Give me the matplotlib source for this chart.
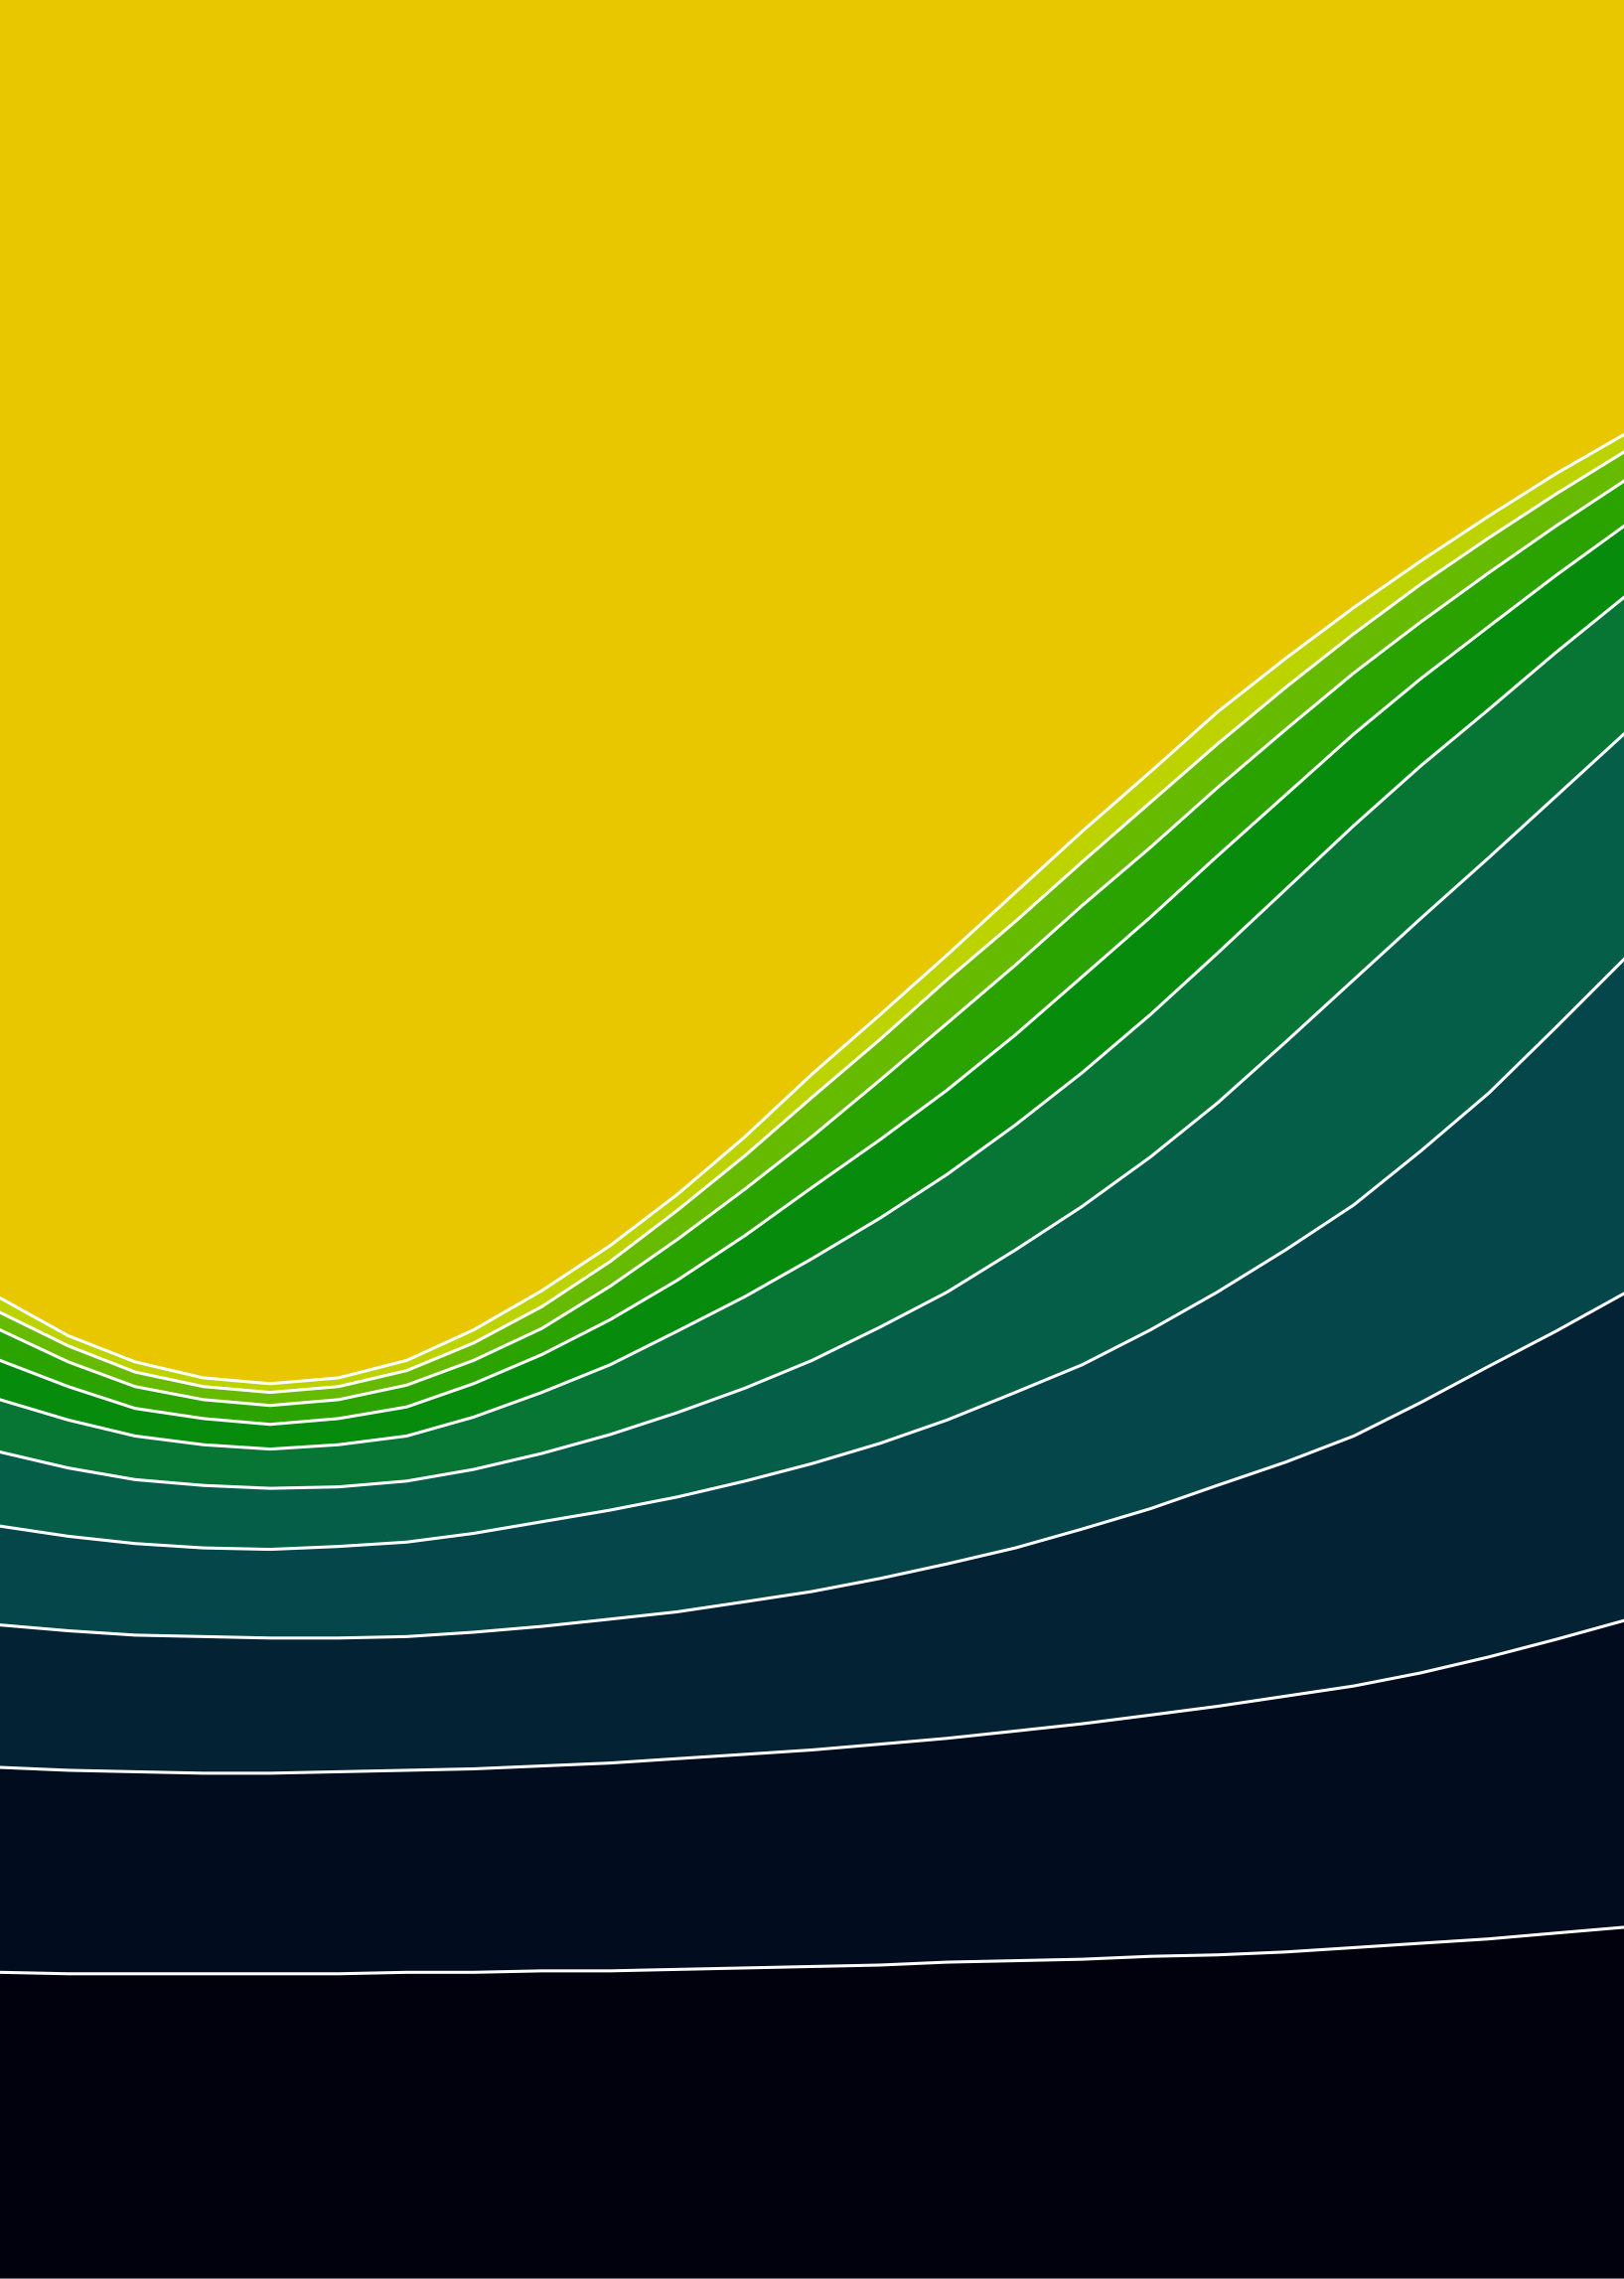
import matplotlib
matplotlib.use("Agg")
import matplotlib.pyplot as plt
import numpy as np

# sample positions across the picture (left -> right)
xs = [0, 47, 93, 140, 186, 233, 280, 326, 373, 420, 466, 513, 559,
      606, 652, 699, 745, 792, 838, 885, 932, 978, 1025, 1071, 1118]

# white boundary curves, top to bottom (depth from the top edge)
c1 = [893, 919, 937, 948, 952, 948, 936, 915, 888, 857, 822, 782, 739,
      698, 657, 614, 572, 531, 490, 453, 418, 386, 355, 326, 299]
c2 = [903, 926, 944, 954, 958, 954, 943, 924, 899, 868, 833, 795, 755,
      715, 674, 634, 593, 552, 512, 473, 436, 402, 370, 340, 311]
c3 = [915, 937, 954, 963, 967, 963, 953, 936, 914, 885, 853, 818, 782,
      743, 704, 664, 623, 583, 542, 502, 463, 428, 394, 362, 331]
c4 = [936, 954, 969, 976, 980, 976, 968, 952, 932, 908, 881, 850, 817,
      784, 750, 712, 672, 631, 589, 547, 505, 467, 431, 396, 362]
c5 = [963, 977, 988, 994, 997, 994, 988, 975, 958, 939, 916, 892, 866,
      838, 808, 774, 738, 698, 656, 612, 568, 527, 488, 449, 411]
c6 = [999, 1010, 1018, 1022, 1024, 1023, 1019, 1011, 1000, 987, 972, 955, 936,
      913, 889, 860, 830, 796, 759, 717, 674, 632, 590, 548, 505]
c7 = [1050, 1057, 1062, 1065, 1066, 1064, 1061, 1055, 1047, 1039, 1030, 1019, 1007,
      993, 977, 958, 939, 915, 889, 860, 829, 792, 752, 707, 660]
c8 = [1118, 1122, 1125, 1126, 1127, 1127, 1126, 1123, 1119, 1114, 1109, 1102, 1095,
      1086, 1076, 1065, 1052, 1038, 1022, 1006, 988, 965, 940, 916, 890]
c9 = [1216, 1218, 1219, 1220, 1220, 1219, 1218, 1217, 1215, 1213, 1210, 1207, 1204,
      1200, 1196, 1191, 1186, 1180, 1174, 1167, 1160, 1151, 1140, 1128, 1115]
c10 = [1357, 1358, 1358, 1358, 1358, 1358, 1357, 1357, 1356, 1356, 1355, 1354, 1353,
       1352, 1350, 1349, 1348, 1346, 1345, 1343, 1340, 1337, 1334, 1330, 1326]

band_colors = ["#E8C600", "#BDD300", "#66BB00", "#2AA300", "#068B0D", "#077533",
               "#055F48", "#04464A", "#032335", "#020C1F", "#01000D"]

W, H = 1118, 1568
curves = [c1, c2, c3, c4, c5, c6, c7, c8, c9, c10]

fig = plt.figure(figsize=(16.35, 22.94), dpi=100)
ax = fig.add_axes([0, 0, 1, 1])
ax.set_xlim(0, W)
ax.set_ylim(H, 0)
ax.axis("off")

x = np.array(xs)
edges = [np.zeros(len(xs))] + [np.array(c) for c in curves] + [np.full(len(xs), H)]
for i, col in enumerate(band_colors):
    ax.fill_between(x, edges[i], edges[i + 1], color=col, linewidth=0)

for c in curves:
    ax.plot(x, c, color="white", lw=2.2, solid_joinstyle="round")

# faint grey edge along the bottom
ax.axhline(H, color="#6e6e6e", lw=1.5)

fig.savefig("out.png", dpi=100)
